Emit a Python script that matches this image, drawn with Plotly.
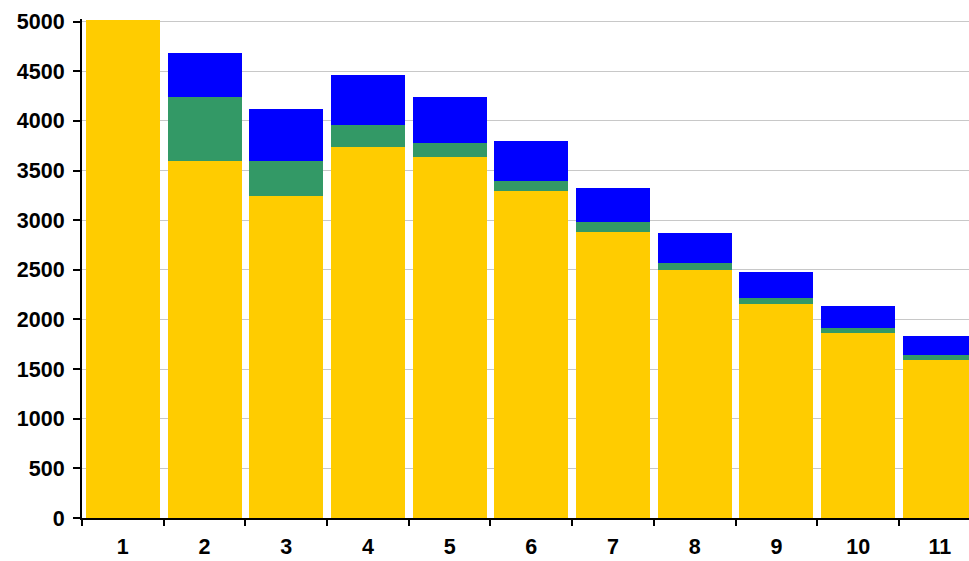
import plotly.graph_objects as go

categories = [str(i) for i in range(1, 12)]
base_values = [5020, 3593, 3240, 3740, 3636, 3293, 2883, 2500, 2157, 1865, 1593]
middle_values = [0, 645, 353, 215, 144, 98, 95, 70, 61, 50, 50]
top_values = [0, 449, 524, 504, 458, 409, 342, 303, 262, 219, 192]
y_ticks = [0, 500, 1000, 1500, 2000, 2500, 3000, 3500, 4000, 4500, 5000]

fig = go.Figure()
for vals, color in [(base_values, "#FFCC00"), (middle_values, "#339966"), (top_values, "#0000FF")]:
    fig.add_trace(go.Bar(x=categories, y=vals, marker=dict(color=color, line=dict(width=0)),
                         showlegend=False))

tick_font = dict(family="Liberation Sans, Arial", size=21.5, color="black", weight="bold")

fig.update_layout(
    barmode="stack",
    bargap=0.094,
    width=969, height=561,
    margin=dict(l=82, r=0, t=19, b=43),
    plot_bgcolor="white", paper_bgcolor="white",
    xaxis=dict(type="category", range=[-0.5, 10.357], tickson="boundaries",
               ticks="outside", ticklen=6, tickwidth=2, tickcolor="black",
               showline=True, linecolor="black", linewidth=2, automargin=False,
               showgrid=False, ticklabelstandoff=8, tickfont=tick_font),
    yaxis=dict(range=[0, 5027], tickvals=y_ticks, ticks="outside", ticklen=7, tickwidth=2,
               tickcolor="black", showline=True, linecolor="black", linewidth=2,
               showgrid=True, gridcolor="#C8C8C8", gridwidth=1, zeroline=False,
               automargin=False, ticklabelstandoff=4, tickfont=tick_font),
)

fig.write_html("out.html")
